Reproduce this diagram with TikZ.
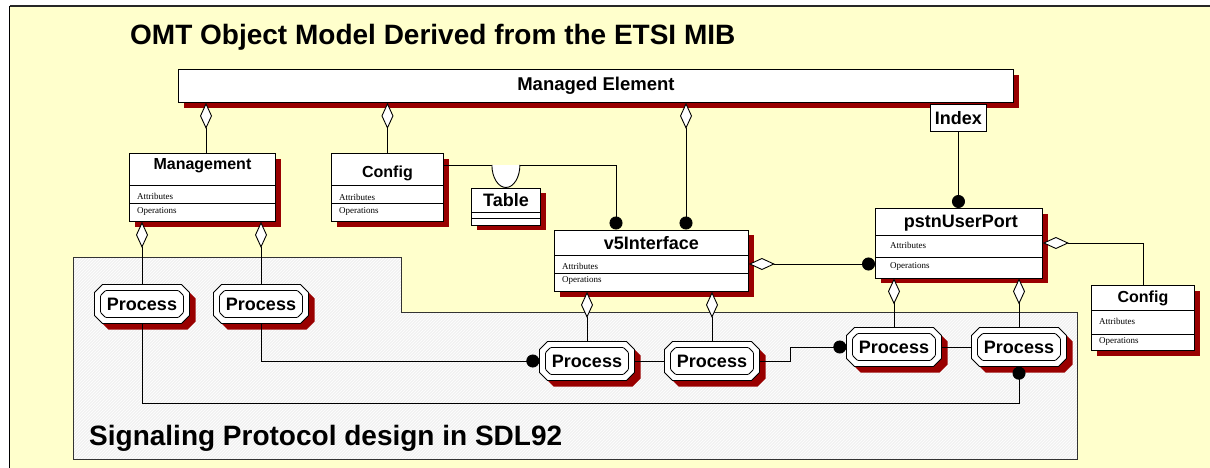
\documentclass[tikz,border=0pt]{standalone}
\usepackage{fontspec}
\setmainfont{Liberation Sans}
\newfontfamily\compfont{Liberation Serif}
\usetikzlibrary{arrows.meta,calc,shadows,patterns}
\definecolor{paper}{HTML}{FFFFCC}
\definecolor{shadowred}{HTML}{990000}
\definecolor{panelgrey}{HTML}{F1F1F1}

\tikzset{
  redshadow/.style={drop shadow={shadow xshift=#1, shadow yshift=-#1, fill=shadowred, opacity=1}},
  classbox/.style={draw, fill=white, line width=0.9pt, anchor=north west, inner sep=0pt, redshadow=5.5pt},
  cname/.style={font=\bfseries\fontsize{#1}{#1}\selectfont, inner sep=0pt},
  cname/.default=18,
  comp/.style={font=\compfont\fontsize{9}{10}\selectfont, anchor=west, inner sep=0pt},
  divider/.style={line width=0.8pt},
  procnode/.style={rectangle, minimum width=95pt, minimum height=39pt, inner sep=0pt,
                   font=\bfseries\fontsize{18}{18}\selectfont},
  procline/.style={line width=0.8pt},
  link/.style={line width=0.9pt},
  aggr/.style={arrows={Diamond[fill=white,length=26pt,width=12pt]-}},
  dotend/.style={arrows={-Circle[length=13pt,width=13pt]}},
  aggrdot/.style={arrows={Diamond[fill=white,length=26pt,width=12pt]-Circle[length=13pt,width=13pt]}},
}

% octagon outline: centre, half width, half height, chamfer
\newcommand\octpath[4]{%
  ($(#1)+(-#2+#4,-#3)$) -- ($(#1)+(#2-#4,-#3)$) -- ($(#1)+(#2,-#3+#4)$) --
  ($(#1)+(#2,#3-#4)$) -- ($(#1)+(#2-#4,#3)$) -- ($(#1)+(-#2+#4,#3)$) --
  ($(#1)+(-#2,#3-#4)$) -- ($(#1)+(-#2,-#3+#4)$) -- cycle}

% SDL process symbol: shadow, outer and inner octagon, then the labelled node
\newcommand\sdlprocess[2]{%
  \coordinate (#1c) at (#2);
  \fill[shadowred] \octpath{$(#1c)+(6,6)$}{47.5}{19.5}{8};
  \filldraw[procline, fill=white] \octpath{#1c}{47.5}{19.5}{8};
  \draw[procline, rounded corners=1pt] \octpath{#1c}{41.5}{13.5}{5};
  \node[procnode] (#1) at (#1c) {Process};
}

\begin{document}
\begin{tikzpicture}[x=1pt,y=-1pt]
\useasboundingbox (0,0) rectangle (1210,468);
% sheet
\fill[white] (0,0) rectangle (1210,468);
\fill[paper] (9.5,6) rectangle (1210,468);
\draw[line width=1.2pt] (9.5,468) -- (9.5,6);
\draw[line width=1.8pt, black!85] (9.5,6) -- (1210,6);

\node[anchor=base west, inner sep=0pt, font=\bfseries\fontsize{28}{30}\selectfont] (title) at (130,45)
  {OMT Object Model Derived from the ETSI MIB};

% SDL panel
\path[fill=panelgrey, postaction={pattern=north east lines, pattern color=white}]
  (73,257) -- (401,257) -- (401,312) -- (1077,312) -- (1077,459) -- (73,459) -- cycle;
\draw[line width=1pt, black!80]
  (73,257) -- (401,257) -- (401,312) -- (1077,312) -- (1077,459) -- (73,459) -- cycle;
\node[anchor=base west, inner sep=0pt, font=\bfseries\fontsize{28}{30}\selectfont] (sdl) at (89,445)
  {Signaling Protocol design in SDL92};

% Managed Element
\node[classbox, minimum width=835pt, minimum height=33pt, cname=18.5] (me) at (178,69) {Managed Element};
\node[draw, fill=white, line width=0.9pt, anchor=north west, minimum width=56pt, minimum height=27pt,
      inner sep=0pt, cname] (index) at (930,104) {Index};

% Management
\node[classbox, minimum width=146pt, minimum height=68pt] (mgmt) at (129,153) {};
\draw[divider] ($(mgmt.north west)+(0,32)$) -- ($(mgmt.north east)+(0,32)$);
\draw[divider] ($(mgmt.north west)+(0,50)$) -- ($(mgmt.north east)+(0,50)$);
\node[cname=16] (mgmtT) at ($(mgmt.north)+(0,13)$) {Management};
\node[comp] (mgmtA) at ($(mgmt.north west)+(8,43.5)$) {Attributes};
\node[comp] (mgmtO) at ($(mgmt.north west)+(8,58)$) {Operations};

% Config (upper)
\node[classbox, minimum width=112pt, minimum height=68pt] (cfgA) at (331,153) {};
\draw[divider] ($(cfgA.north west)+(0,32)$) -- ($(cfgA.north east)+(0,32)$);
\draw[divider] ($(cfgA.north west)+(0,50)$) -- ($(cfgA.north east)+(0,50)$);
\node[cname=16] (cfgAT) at ($(cfgA.north)+(0,20)$) {Config};
\node[comp] (cfgAA) at ($(cfgA.north west)+(8,44)$) {Attributes};
\node[comp] (cfgAO) at ($(cfgA.north west)+(8,58)$) {Operations};

% Table
\node[classbox, minimum width=69pt, minimum height=37pt] (table) at (471,187.5) {};
\draw[divider] ($(table.north west)+(0,25)$) -- ($(table.north east)+(0,25)$);
\draw[divider] ($(table.north west)+(0,31)$) -- ($(table.north east)+(0,31)$);
\node[cname] (tableT) at ($(table.north)+(0,13)$) {Table};

% v5Interface
\node[classbox, minimum width=194pt, minimum height=61.5pt] (v5) at (554,229.5) {};
\draw[divider] ($(v5.north west)+(0,26)$) -- ($(v5.north east)+(0,26)$);
\draw[divider] ($(v5.north west)+(0,44)$) -- ($(v5.north east)+(0,44)$);
\node[cname] (v5T) at ($(v5.north)+(0,13.5)$) {v5Interface};
\node[comp] (v5A) at ($(v5.north west)+(8,36.5)$) {Attributes};
\node[comp] (v5O) at ($(v5.north west)+(8,50.5)$) {Operations};

% pstnUserPort
\node[classbox, minimum width=167pt, minimum height=69.5pt] (pstn) at (875,208) {};
\draw[divider] ($(pstn.north west)+(0,27.5)$) -- ($(pstn.north east)+(0,27.5)$);
\draw[divider] ($(pstn.north west)+(0,49)$) -- ($(pstn.north east)+(0,49)$);
\node[cname] (pstnT) at ($(pstn.north)+(2,15)$) {pstnUserPort};
\node[comp] (pstnA) at ($(pstn.north west)+(15,37)$) {Attributes};
\node[comp] (pstnO) at ($(pstn.north west)+(15,58)$) {Operations};

% Config (right)
\node[classbox, minimum width=103pt, minimum height=65pt] (cfgB) at (1091,285) {};
\draw[divider] ($(cfgB.north west)+(0,25)$) -- ($(cfgB.north east)+(0,25)$);
\draw[divider] ($(cfgB.north west)+(0,49)$) -- ($(cfgB.north east)+(0,49)$);
\node[cname=16] (cfgBT) at ($(cfgB.north)+(0,13)$) {Config};
\node[comp] (cfgBA) at ($(cfgB.north west)+(8,36)$) {Attributes};
\node[comp] (cfgBO) at ($(cfgB.north west)+(8,56)$) {Operations};

% SDL processes
\sdlprocess{p1}{142,304}
\sdlprocess{p2}{261,304}
\sdlprocess{p3}{587,361}
\sdlprocess{p4}{712,361}
\sdlprocess{p5}{894,347}
\sdlprocess{p6}{1019,347}

% aggregations from Managed Element
\draw[link, aggr] ($(me.south west)+(28,0)$) -- ($(mgmt.north west)+(77,0)$);
\draw[link, aggr] (me.south -| cfgA.north) -- (cfgA.north);
\draw[link, aggrdot] ($(me.south west)+(508,0)$) -- ($(v5.north west)+(132,0)$);
\draw[link, dotend] (index.south) -- (pstn.north -| index.south);

% Config -- v5Interface with qualifier
\draw[link, dotend] ($(cfgA.north east)+(0,12)$) -| ($(v5.north west)+(62,0)$);
\draw[link, fill=white] ($(cfgA.north east)+(48,12)$) arc[start angle=180, end angle=0, x radius=14, y radius=22.5];

% v5Interface -- pstnUserPort -- Config
\draw[link, aggrdot] ($(v5.north east)+(0,34.5)$) -- ($(pstn.north west)+(0,56)$);
\draw[link, aggr] ($(pstn.north east)+(0,35)$) -| (cfgB.north);

% aggregations of processes
\draw[link, aggr] (mgmt.south -| p1.north) -- (p1.north);
\draw[link, aggr] (mgmt.south -| p2.north) -- (p2.north);
\draw[link, aggr] (v5.south -| p3.north) -- (p3.north);
\draw[link, aggr] (v5.south -| p4.north) -- (p4.north);
\draw[link, aggr] (pstn.south -| p5.north) -- (p5.north);
\draw[link, aggr] (pstn.south -| p6.north) -- (p6.north);

% signal routes between processes
\coordinate (loopy) at (0,403);
\draw[link, dotend] (p1.south) -- (p1.south |- loopy) -| (p6.south);
\draw[link, dotend] (p2.south) |- (p3.west);
\draw[link] (p3.east) -- (p4.west);
\draw[link, dotend] (p4.east) -- ($(p4.east)+(31,0)$) |- (p5.west);
\draw[link] (p5.east) -- (p6.west);
\end{tikzpicture}
\end{document}
